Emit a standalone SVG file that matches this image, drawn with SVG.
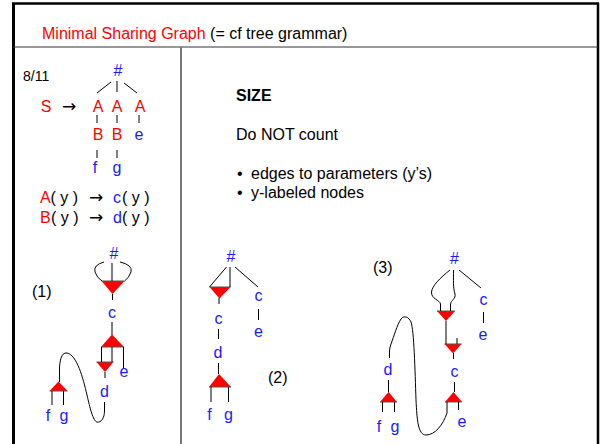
<svg xmlns="http://www.w3.org/2000/svg" width="602" height="444" viewBox="0 0 602 444">
<style>
text{font-family:"Liberation Sans",Arial,sans-serif;font-size:16px}
.r{fill:#ff0000}
.b{fill:#1a1aff}
.k{fill:#000}
.m{text-anchor:middle}
.ar{font-family:"DejaVu Sans",sans-serif;font-size:17px}
.ln{stroke:#000;stroke-width:1;fill:none}
.tri{fill:#ff0000;stroke:none}
.base{stroke:#555;stroke-width:1}
</style>
<rect width="602" height="444" fill="#fff"/>
<g id="frame">
<line x1="13.5" y1="3" x2="13.5" y2="444" stroke="#000" stroke-width="3"/>
<line x1="12" y1="3.5" x2="599" y2="3.5" stroke="#000" stroke-width="2.5"/>
<line x1="598" y1="3" x2="598" y2="444" stroke="#000" stroke-width="2.5"/>
<line x1="13" y1="47" x2="598" y2="47" stroke="#333" stroke-width="1.2"/>
<line x1="181" y1="47" x2="181" y2="444" stroke="#777" stroke-width="2"/>
</g>
<g id="title"><text x="42" y="39" class="k"><tspan class="r">Minimal Sharing Graph</tspan> (= cf tree grammar)</text></g>
<g id="page"><text x="23" y="81" class="k" style="font-size:14px">8/11</text></g>

<g id="rule-S">
<text x="46" y="112" class="r m">S</text>
<text x="69" y="112" class="k m ar">→</text>
<text x="118" y="76" class="b m">#</text>
<text x="98" y="112" class="r m">A</text>
<text x="117" y="112" class="r m">A</text>
<text x="140" y="112" class="r m">A</text>
<text x="98" y="140" class="r m">B</text>
<text x="117" y="140" class="r m">B</text>
<text x="139" y="140" class="b m">e</text>
<text x="95" y="173" class="b m">f</text>
<text x="117" y="173" class="b m">g</text>
</g>
<g id="rule-A"><text y="203" class="k"><tspan x="40" class="r">A</tspan><tspan x="50.5">( y )</tspan><tspan x="89" class="ar">→</tspan><tspan x="113" class="b">c</tspan><tspan x="122">( y )</tspan></text></g>
<g id="rule-B"><text y="223" class="k"><tspan x="40" class="r">B</tspan><tspan x="51">( y )</tspan><tspan x="89" class="ar">→</tspan><tspan x="113" class="b">d</tspan><tspan x="122">( y )</tspan></text></g>

<g id="size-text">
<text x="236" y="101" class="k" font-weight="bold">SIZE</text>
<text x="236" y="140" class="k">Do NOT count</text>
<text x="237" y="179" class="k">•</text><text x="251" y="179" class="k">edges to parameters (y’s)</text>
<text x="237" y="198" class="k">•</text><text x="251" y="198" class="k">y-labeled nodes</text>
</g>

<g id="labels">
<text x="32" y="297" class="k">(1)</text>
<text x="268" y="383" class="k">(2)</text>
<text x="373" y="273" class="k">(3)</text>
</g>

<g id="graph1">
<text x="114" y="259" class="b m">#</text>
<polygon class="tri" points="101.5,281 124.5,281 112.5,294"/>
<line class="base" x1="101.5" y1="281" x2="124.5" y2="281"/>
<text x="112" y="318" class="b m">c</text>
<polygon class="tri" points="112,334.5 101,347 124,347"/>
<line class="base" x1="101" y1="347" x2="124" y2="347"/>
<polygon class="tri" points="96.5,362 113.5,362 105,372"/>
<line class="base" x1="96.5" y1="362" x2="113.5" y2="362"/>
<text x="104.5" y="397" class="b m">d</text>
<text x="124" y="377" class="b m">e</text>
<polygon class="tri" points="58.5,381.5 49.5,391 67.5,391"/>
<line class="base" x1="49.5" y1="391" x2="67.5" y2="391"/>
<text x="48" y="421" class="b m">f</text>
<text x="64" y="421" class="b m">g</text>
</g>

<g id="graph2">
<text x="231" y="262" class="b m">#</text>
<polygon class="tri" points="209.5,287 230.5,287 219.5,298.5"/>
<line class="base" x1="209.5" y1="287" x2="230.5" y2="287"/>
<text x="218.5" y="324" class="b m">c</text>
<text x="218" y="358" class="b m">d</text>
<polygon class="tri" points="219,374 209,387 231,387"/>
<line class="base" x1="209" y1="387" x2="231" y2="387"/>
<text x="209.5" y="420" class="b m">f</text>
<text x="228.5" y="420" class="b m">g</text>
<text x="258.5" y="301" class="b m">c</text>
<text x="258.5" y="337" class="b m">e</text>
</g>

<g id="graph3">
<text x="454.5" y="264" class="b m">#</text>
<polygon class="tri" points="437,311 455,311 446,321"/>
<line class="base" x1="437" y1="311" x2="455" y2="311"/>
<polygon class="tri" points="444.5,344 461.5,344 453,353.5"/>
<line class="base" x1="444.5" y1="344" x2="461.5" y2="344"/>
<text x="454.5" y="377" class="b m">c</text>
<polygon class="tri" points="453.5,392 445,402 462,402"/>
<line class="base" x1="445" y1="402" x2="462" y2="402"/>
<text x="462" y="427" class="b m">e</text>
<text x="483.5" y="305" class="b m">c</text>
<text x="483" y="340" class="b m">e</text>
<text x="388" y="375" class="b m">d</text>
<polygon class="tri" points="388.5,392 380,402 397,402"/>
<line class="base" x1="380" y1="402" x2="397" y2="402"/>
<text x="379" y="432" class="b m">f</text>
<text x="395" y="432" class="b m">g</text>
</g>

<g id="connectors" class="ln">
<line x1="111" y1="82" x2="97" y2="93"/>
<line x1="117" y1="81" x2="117" y2="92"/>
<line x1="124" y1="83" x2="137" y2="93"/>
<line x1="97" y1="115" x2="97" y2="123"/>
<line x1="117" y1="115" x2="117" y2="123"/>
<line x1="139" y1="115" x2="139" y2="123"/>
<line x1="97" y1="150" x2="97" y2="158"/>
<line x1="117" y1="150" x2="117" y2="158"/>

<line x1="112" y1="263" x2="112" y2="281"/>
<path d="M104,262 Q93,265 95,272 Q97,278 102,281"/>
<path d="M120,262 Q133,265 131,272 Q129,278 124.5,281"/>
<line x1="112.5" y1="294" x2="112.5" y2="300"/>
<line x1="112" y1="322" x2="112" y2="335"/>
<line x1="101.5" y1="347" x2="101.5" y2="362"/>
<line x1="112" y1="347" x2="112" y2="362"/>
<line x1="123.5" y1="347" x2="123.5" y2="368"/>
<line x1="105" y1="372" x2="105" y2="378"/>
<path d="M104.5,402 V411 C104.5,418 101,423 97,422 C93,421 90,408 87,395 C83,378 77,355 67,353 C61,352 59.5,362 59.5,370 V382"/>
<line x1="52" y1="391" x2="52" y2="405"/>
<line x1="63.5" y1="391" x2="63.5" y2="405"/>

<line x1="226.5" y1="267" x2="209.5" y2="287"/>
<line x1="230" y1="267" x2="230" y2="287"/>
<line x1="235" y1="267" x2="258" y2="287"/>
<line x1="219" y1="298" x2="219" y2="304"/>
<line x1="218.5" y1="329" x2="218.5" y2="339"/>
<line x1="218.5" y1="363" x2="218.5" y2="374"/>
<line x1="211" y1="387" x2="211" y2="402"/>
<line x1="228.5" y1="387" x2="228.5" y2="402"/>
<line x1="258.5" y1="309" x2="258.5" y2="320"/>

<path d="M450,270 C440,278 432,286 431.5,292 C431,299 440,300 440.5,304 L440.5,311"/>
<path d="M453.5,270 C453.5,280 453,288 455,294 C456,299 451,300 450.5,304 L450.5,311"/>
<line x1="459" y1="270" x2="481" y2="288"/>
<line x1="446" y1="321" x2="446" y2="344"/>
<line x1="457" y1="338" x2="457" y2="344"/>
<line x1="453.5" y1="353" x2="453.5" y2="359"/>
<line x1="454.5" y1="382" x2="454.5" y2="392"/>
<line x1="458.5" y1="402" x2="458.5" y2="410"/>
<path d="M447,402 V413 C443,425 435,435 426,435 C418,435 417,420 416,400 C415,370 414,330 411,322 C409,317 404,315 401,319 C397,325 394,336 391,344 C390,347 389.5,349 389.5,352 V358"/>
<line x1="483.5" y1="312" x2="483.5" y2="323"/>
<line x1="388.5" y1="380" x2="388.5" y2="392"/>
<line x1="382.5" y1="402" x2="382.5" y2="412"/>
<line x1="394.5" y1="402" x2="394.5" y2="412"/>
</g>
</svg>
